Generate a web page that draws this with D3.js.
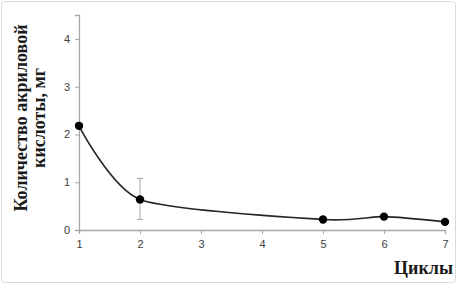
<!DOCTYPE html>
<html>
<head>
<meta charset="utf-8">
<script src="https://cdn.jsdelivr.net/npm/d3@7"></script>
<style>
body { margin: 0; background: #fff; }
svg { display: block; }
</style>
</head>
<body>
<div class="chart"></div>
<script>
// cycles and amount of acrylic acid, mg
const cycles = [1, 2, 5, 6, 7]
const amounts = [2.18, 0.64, 0.22, 0.28, 0.17]
const errLow = [null, 0.22, null, null, null]
const errHigh = [null, 1.08, null, null, null]
const xTicks = [1, 2, 3, 4, 5, 6, 7]
const yTicks = [0, 1, 2, 3, 4]

const W = 457, H = 284
const x = d3.scaleLinear().domain([1, 7]).range([79, 445])
const y = d3.scaleLinear().domain([0, 4.5]).range([230, 15])

const svg = d3.select('.chart').append('svg')
	.attr('width', W).attr('height', H)

// chart area border
svg.append('rect')
	.attr('x', 1.5).attr('y', 1.5)
	.attr('width', W - 3).attr('height', H - 3)
	.attr('rx', 3)
	.attr('fill', '#fff').attr('stroke', '#d9d9d9')

const xAxis = svg.append('g')
	.attr('transform', `translate(0,${y(0)})`)
	.call(d3.axisBottom(x).tickValues(xTicks).tickSize(4).tickPadding(6).tickFormat(d3.format('d')))
const yAxis = svg.append('g')
	.attr('transform', `translate(${x(1)},0)`)
	.call(d3.axisLeft(y).tickValues(yTicks.concat([4.5])).tickSize(4).tickPadding(5)
		.tickFormat(d => d === 4.5 ? '' : d))

for (const g of [xAxis, yAxis]) {
	g.select('.domain').attr('stroke', '#a6a6a6').attr('stroke-width', 1.3)
	g.selectAll('.tick line').attr('stroke', '#a6a6a6')
	g.selectAll('.tick text')
		.attr('fill', '#404040')
		.style('font-family', '"Liberation Sans", Arial, sans-serif')
		.style('font-size', '11px')
}

const pts = cycles.map((c, i) => [c, amounts[i]])

svg.append('path')
	.datum(pts)
	.attr('fill', 'none')
	.attr('stroke', '#262626')
	.attr('stroke-width', 1.6)
	.attr('d', d3.line().x(d => x(d[0])).y(d => y(d[1])).curve(d3.curveCardinal.tension(0.3)))

// error bars
cycles.forEach((c, i) => {
	if (errLow[i] == null) return
	const g = svg.append('g').attr('stroke', '#a6a6a6').attr('stroke-width', 1)
	g.append('line').attr('x1', x(c)).attr('x2', x(c)).attr('y1', y(errLow[i])).attr('y2', y(errHigh[i]))
	g.append('line').attr('x1', x(c) - 3).attr('x2', x(c) + 3).attr('y1', y(errLow[i])).attr('y2', y(errLow[i]))
	g.append('line').attr('x1', x(c) - 3).attr('x2', x(c) + 3).attr('y1', y(errHigh[i])).attr('y2', y(errHigh[i]))
})

svg.selectAll('circle.pt')
	.data(pts)
	.join('circle')
	.attr('class', 'pt')
	.attr('cx', d => x(d[0]))
	.attr('cy', d => y(d[1]))
	.attr('r', 4.2)
	.attr('fill', '#000')

const titleFont = '"Liberation Serif", "Times New Roman", serif'

svg.append('text')
	.attr('transform', 'translate(27,118) rotate(-90)')
	.attr('text-anchor', 'middle')
	.style('font-family', titleFont).style('font-weight', 'bold').style('font-size', '18px')
	.attr('fill', '#1a1a1a')
	.text('Количество акриловой')
svg.append('text')
	.attr('transform', 'translate(45,118) rotate(-90)')
	.attr('text-anchor', 'middle')
	.style('font-family', titleFont).style('font-weight', 'bold').style('font-size', '18px')
	.attr('fill', '#1a1a1a')
	.text('кислоты, мг')

svg.append('text')
	.attr('x', 453).attr('y', 274)
	.attr('text-anchor', 'end')
	.style('font-family', titleFont).style('font-weight', 'bold').style('font-size', '18px')
	.attr('fill', '#1a1a1a')
	.text('Циклы')
</script>
</body>
</html>
